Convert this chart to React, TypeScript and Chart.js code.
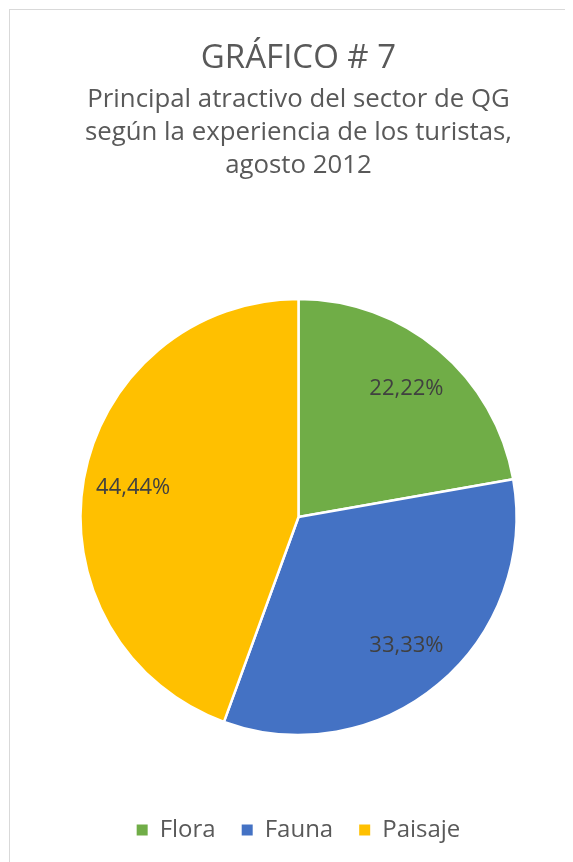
import React, { useEffect, useRef } from "react";
import { Chart, registerables } from "chart.js";

Chart.register(...registerables);

const categories = ["Flora", "Fauna", "Paisaje"];
const values = [22.22, 33.33, 44.44];
const valueLabels = ["22,22%", "33,33%", "44,44%"];
const colors = ["#70AD47", "#4472C4", "#FFC000"];
const titleText = "GRÁFICO # 7";
const subtitleLines = [
  "Principal atractivo del sector de QG",
  "según la experiencia de los turistas,",
  "agosto 2012",
];

const FONT = "'Open Sans', 'DejaVu Sans', sans-serif";

const sliceLabels = {
  id: "sliceLabels",
  afterDatasetsDraw(chart: any) {
    const ctx = chart.ctx;
    const meta = chart.getDatasetMeta(0);
    ctx.save();
    ctx.font = `22px ${FONT}`;
    ctx.fillStyle = "#404040";
    ctx.textAlign = "center";
    ctx.textBaseline = "middle";
    meta.data.forEach((arc: any, i: number) => {
      const p = arc.getProps(["x", "y", "startAngle", "endAngle", "outerRadius"], true);
      const mid = (p.startAngle + p.endAngle) / 2;
      const r = p.outerRadius * 0.77;
      ctx.fillText(valueLabels[i], p.x + Math.cos(mid) * r, p.y + Math.sin(mid) * r);
    });
    ctx.restore();
  },
};

export default function App() {
  const ref = useRef<HTMLCanvasElement>(null);
  useEffect(() => {
    if (!ref.current) return;
    const chart = new Chart(ref.current, {
      type: "pie",
      data: {
        labels: categories,
        datasets: [
          {
            data: values,
            backgroundColor: colors,
            borderColor: "#ffffff",
            borderWidth: 2.5,
            hoverOffset: 0,
            radius: 218,
          },
        ],
      },
      options: {
        responsive: false,
        animation: false,
        layout: { padding: { top: 0, bottom: 18, left: 0, right: 0 } },
        plugins: {
          tooltip: { enabled: false },
          title: {
            display: true,
            text: titleText,
            color: "#595959",
            font: { family: FONT, size: 33, weight: "normal", lineHeight: 1.164 },
            padding: { top: 29.8, bottom: 1 },
          },
          subtitle: {
            display: true,
            text: subtitleLines,
            color: "#595959",
            font: { family: FONT, size: 25.8, weight: "normal", lineHeight: 1.279 },
            padding: { top: 3.5, bottom: 60.3 },
          },
          legend: {
            display: true,
            position: "bottom",
            labels: {
              boxWidth: 11,
              boxHeight: 11,
              padding: 26,
              color: "#595959",
              font: { family: FONT, size: 24 },
              generateLabels: (c: any) =>
                Chart.overrides.pie.plugins.legend.labels
                  .generateLabels(c)
                  .map((l: any) => ({ ...l, lineWidth: 0, strokeStyle: "transparent" })),
            },
          },
        },
      } as any,
      plugins: [sliceLabels],
    });
    return () => chart.destroy();
  }, []);
  return (
    <div
      style={{
        width: 564,
        height: 853,
        paddingLeft: 1,
        paddingTop: 1,
        overflow: "hidden",
        background: "#fff",
      }}
    >
      <div
        style={{
          width: 577,
          height: 900,
          border: "1px solid #d9d9d9",
          background: "#fff",
        }}
      >
        <canvas ref={ref} width={577} height={860} style={{ display: "block" }} />
      </div>
    </div>
  );
}
